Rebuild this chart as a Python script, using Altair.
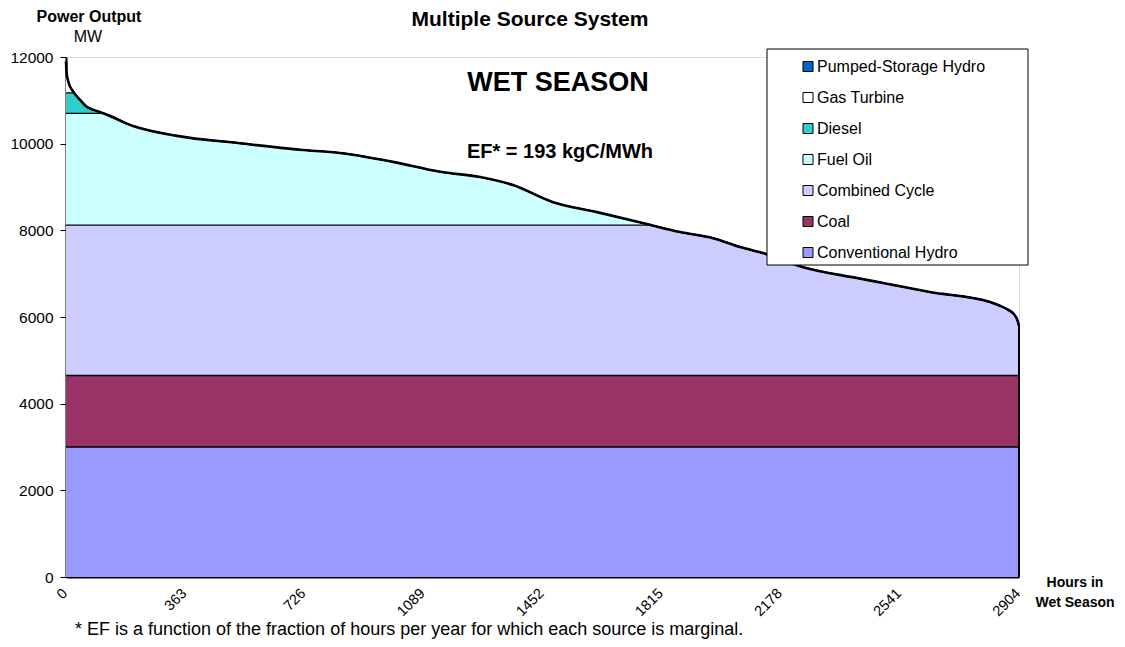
import altair as alt
import pandas as pd

# ---- data ----
hours = [0, 2, 7, 22, 43, 63, 84, 109, 204, 338, 530, 713, 835, 996, 1140, 1262,
         1362, 1484, 1618, 1770, 1871, 1972, 2054, 2124, 2246, 2410, 2490, 2633,
         2816, 2846, 2870, 2888, 2898, 2904]
load_mw = [11900, 11620, 11430, 11200, 11010, 10850, 10780, 10715, 10410, 10180,
           10010, 9860, 9785, 9580, 9350, 9230, 9045, 8650, 8420, 8145, 7960, 7820,
           7615, 7475, 7150, 6900, 6785, 6575, 6345, 6260, 6170, 6070, 5950, 5800]

sources = ["Conventional Hydro", "Coal", "Combined Cycle", "Fuel Oil", "Diesel",
           "Gas Turbine", "Pumped-Storage Hydro"]
upper_mw = [3000, 4650, 8120, 10700, 11170, 11900, 12000]
colors = ["#9999FF", "#993366", "#CCCCFF", "#CCFFFF", "#33CCCC", "#FFFFFF", "#0066CC"]

x_ticks = [0, 363, 726, 1089, 1452, 1815, 2178, 2541, 2904]
y_ticks = [0, 2000, 4000, 6000, 8000, 10000, 12000]

FONT = "Liberation Sans"
INTERP = "monotone"

# ---- build tables ----
rows = []
lower = 0
for s, up in zip(sources, upper_mw):
    for h, l in zip(hours, load_mw):
        rows.append({"source": s, "hours": h, "low": min(l, lower), "high": min(l, up)})
    lower = up
bands = pd.DataFrame(rows)
curve = pd.DataFrame({"hours": hours, "load": load_mw})
edge = pd.DataFrame({"hours": [hours[-1]], "load": [load_mw[-1]], "zero": [0]})

legend_order = list(reversed(sources))
legend_colors = list(reversed(colors))

xscale = alt.Scale(domain=[0, 2904], nice=False, zero=False)
yscale = alt.Scale(domain=[0, 12000], nice=False)

x_axis = alt.Axis(values=x_ticks, labelAngle=-45, ticks=False, grid=False, title=None,
                  domainColor="black", domainWidth=2, labelFont=FONT, labelFontSize=14.5,
                  labelColor="black", labelPadding=9, labelOffset=-6, format="d")
y_axis = alt.Axis(values=y_ticks, grid=False, title=None, domainColor="black",
                  domainWidth=2, tickColor="black", tickSize=6, labelFont=FONT,
                  labelFontSize=15.5, labelColor="black", labelPadding=7, format="d")

areas = alt.Chart(bands).mark_area(interpolate=INTERP, opacity=1).encode(
    x=alt.X("hours:Q", scale=xscale, axis=x_axis),
    y=alt.Y("high:Q", scale=yscale, axis=y_axis),
    y2="low:Q",
    color=alt.Color("source:N",
                    scale=alt.Scale(domain=legend_order, range=legend_colors),
                    legend=alt.Legend(title=None, orient="none", legendX=734, legendY=1.5,
                                      symbolType="square", symbolSize=100,
                                      symbolStrokeColor="black", symbolStrokeWidth=1,
                                      symbolOpacity=1, labelFont=FONT, labelFontSize=16,
                                      labelColor="black", rowPadding=15, labelOffset=1,
                                      labelLimit=300, padding=0)),
)

bounds = alt.Chart(bands[bands["source"] != "Conventional Hydro"]).mark_line(
    color="black", strokeWidth=1.3, interpolate=INTERP).encode(
    x=alt.X("hours:Q", scale=xscale),
    y=alt.Y("low:Q", scale=yscale),
    detail="source:N",
)

load_line = alt.Chart(curve).mark_line(color="black", strokeWidth=2.6,
                                       interpolate=INTERP).encode(
    x=alt.X("hours:Q", scale=xscale),
    y=alt.Y("load:Q", scale=yscale),
)

right_edge = alt.Chart(edge).mark_rule(color="black", strokeWidth=2).encode(
    x=alt.X("hours:Q", scale=xscale),
    y=alt.Y("zero:Q", scale=yscale),
    y2="load:Q",
)

box = alt.Chart(pd.DataFrame({"a": [0]})).mark_rect(
    fill="white", stroke="black", strokeWidth=1).encode(
    x=alt.value(701), x2=alt.value(962), y=alt.value(-8), y2=alt.value(208))


def label(txt, x, y, size, bold=False, align="center"):
    return alt.Chart(pd.DataFrame({"t": [txt]})).mark_text(
        font=FONT, fontSize=size, fontWeight="bold" if bold else "normal",
        color="black", align=align, baseline="alphabetic").encode(
        text="t:N", x=alt.value(x), y=alt.value(y))


texts = [
    label("Multiple Source System", 464, -31, 21, True),
    label("Power Output", 23, -35, 16, True),
    label("MW", 22, -15, 16),
    label("WET SEASON", 492, 34, 27, True),
    label("EF* = 193 kgC/MWh", 494, 101, 20, True),
    label("Hours in", 1009, 530, 14, True),
    label("Wet Season", 1009, 550, 14, True),
    label("* EF is a function of the fraction of hours per year for which each source is marginal.",
          9, 578, 18, False, "left"),
]

chart = alt.layer(areas, bounds, load_line, right_edge, box, *texts).properties(
    width=953, height=520,
    autosize=alt.AutoSizeParams(type="none"),
    padding={"left": 58, "top": 49, "right": 98, "bottom": 62},
).configure_view(stroke=None).configure(background="white")

chart.save("out.html", embed_options={"renderer": "svg", "actions": False})
